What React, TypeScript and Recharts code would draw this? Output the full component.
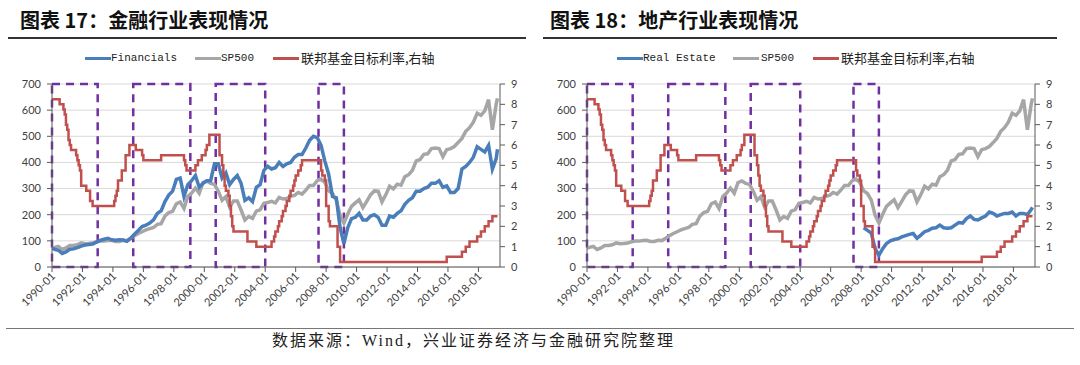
import React from "react";
import { ComposedChart, Line, XAxis, YAxis, CartesianGrid, ReferenceArea } from "recharts";

const dates = [
  "1990-01", "1990-03", "1990-06", "1990-09", "1990-12",
  "1991-03", "1991-06", "1991-09", "1991-12",
  "1992-03", "1992-06", "1992-09", "1992-12",
  "1993-03", "1993-06", "1993-09", "1993-12",
  "1994-03", "1994-06", "1994-09", "1994-12",
  "1995-03", "1995-06", "1995-09", "1995-12",
  "1996-03", "1996-06", "1996-09", "1996-12",
  "1997-03", "1997-06", "1997-09", "1997-12",
  "1998-03", "1998-06", "1998-09", "1998-12",
  "1999-03", "1999-06", "1999-09", "1999-12",
  "2000-03", "2000-06", "2000-09", "2000-12",
  "2001-03", "2001-06", "2001-09", "2001-12",
  "2002-03", "2002-06", "2002-09", "2002-12",
  "2003-03", "2003-06", "2003-09", "2003-12",
  "2004-03", "2004-06", "2004-09", "2004-12",
  "2005-03", "2005-06", "2005-09", "2005-12",
  "2006-03", "2006-06", "2006-09", "2006-12",
  "2007-03", "2007-06", "2007-09", "2007-12",
  "2008-03", "2008-06", "2008-09", "2008-12",
  "2009-03", "2009-06", "2009-09", "2009-12",
  "2010-03", "2010-06", "2010-09", "2010-12",
  "2011-03", "2011-06", "2011-09", "2011-12",
  "2012-03", "2012-06", "2012-09", "2012-12",
  "2013-03", "2013-06", "2013-09", "2013-12",
  "2014-03", "2014-06", "2014-09", "2014-12",
  "2015-03", "2015-06", "2015-09", "2015-12",
  "2016-03", "2016-06", "2016-09", "2016-12",
  "2017-03", "2017-06", "2017-09", "2017-12",
  "2018-03", "2018-06", "2018-09", "2018-12",
  "2019-03", "2019-04",
];

const sp500 = [
  72, 75, 79, 67, 73,
  82, 82, 85, 92,
  89, 90, 92, 96,
  99, 99, 101, 102,
  98, 98, 102, 101,
  110, 120, 128, 135,
  142, 147, 151, 163,
  166, 195, 208, 213,
  242, 249, 224, 270,
  283, 302, 282, 323,
  329, 320, 316, 290,
  255, 269, 229, 252,
  252, 218, 180, 193,
  186, 214, 219, 244,
  247, 251, 245, 266,
  260, 262, 270, 274,
  285, 279, 294, 312,
  312, 330, 336, 323,
  291, 281, 256, 198,
  168, 202, 232, 245,
  257, 227, 251, 276,
  291, 290, 249, 276,
  309, 299, 317, 313,
  345, 353, 370, 406,
  411, 431, 433, 453,
  455, 453, 422, 449,
  453, 461, 476, 492,
  519, 533, 554, 588,
  580, 597, 640, 525,
  623, 645,
];

const financials = [
  72, 68, 64, 52, 58,
  68, 70, 74, 80,
  84, 86, 88, 95,
  102, 106, 110, 104,
  102, 104, 103, 98,
  110, 125, 140, 155,
  160, 168, 180, 205,
  215, 250, 275, 290,
  335, 340, 270, 315,
  330, 350, 305, 320,
  330, 330, 395, 395,
  340, 360, 315, 335,
  350, 320, 255, 265,
  250, 305, 315, 370,
  385, 375, 380, 400,
  385, 395, 400, 420,
  430, 430, 455, 485,
  500, 495, 465, 405,
  355, 270, 265, 150,
  90, 150, 185, 190,
  205, 180, 180, 195,
  200, 190, 160, 160,
  195, 190, 205, 215,
  240, 255, 265, 290,
  290, 300, 305, 320,
  320, 330, 305, 310,
  285, 285, 300, 375,
  385, 400, 420, 460,
  450, 440, 465, 375,
  415, 450,
];

// real estate series only starts in 2008
const reStart = "2008-03";
const realEstate = [
  150, 140, 130, 70,
  45, 70, 90, 100,
  105, 108, 115, 120,
  125, 128, 110, 122,
  135, 140, 148, 150,
  160, 150, 148, 150,
  160, 170, 168, 185,
  195, 182, 180, 188,
  195, 210, 205, 195,
  200, 205, 205, 210,
  195, 205, 205, 200,
  220, 228,
];

// fed funds target rate, change points (right axis)
const fedDates = [
  "1990-01", "1990-07", "1990-10", "1990-11", "1990-12", "1991-01", "1991-02", "1991-03",
  "1991-04", "1991-08", "1991-09", "1991-10", "1991-11", "1991-12", "1992-04", "1992-07",
  "1992-09", "1994-02", "1994-03", "1994-04", "1994-05", "1994-08", "1994-11", "1995-02",
  "1995-07", "1995-12", "1996-01", "1997-03", "1998-09", "1998-10", "1998-11", "1999-06",
  "1999-08", "1999-11", "2000-02", "2000-03", "2000-05", "2001-01", "2001-03", "2001-04",
  "2001-05", "2001-06", "2001-08", "2001-09", "2001-10", "2001-11", "2001-12", "2002-11",
  "2003-06", "2004-06", "2004-08", "2004-09", "2004-11", "2004-12", "2005-02", "2005-03",
  "2005-05", "2005-06", "2005-08", "2005-09", "2005-11", "2005-12", "2006-01", "2006-03",
  "2006-05", "2006-06", "2007-09", "2007-10", "2007-12", "2008-01", "2008-03", "2008-04",
  "2008-10", "2008-12", "2015-12", "2016-12", "2017-03", "2017-06", "2017-12", "2018-03",
  "2018-06", "2018-09", "2018-12", "2019-04",
];
const fedRate = [
  8.25, 8.0, 7.75, 7.5, 7.0, 6.75, 6.25, 6.0,
  5.75, 5.5, 5.25, 5.0, 4.75, 4.0, 3.75, 3.25,
  3.0, 3.25, 3.5, 3.75, 4.25, 4.75, 5.5, 6.0,
  5.75, 5.5, 5.25, 5.5, 5.25, 5.0, 4.75, 5.0,
  5.25, 5.5, 5.75, 6.0, 6.5, 5.5, 5.0, 4.5,
  4.0, 3.75, 3.5, 3.0, 2.5, 2.0, 1.75, 1.25,
  1.0, 1.25, 1.5, 1.75, 2.0, 2.25, 2.5, 2.75,
  3.0, 3.25, 3.5, 3.75, 4.0, 4.25, 4.5, 4.75,
  5.0, 5.25, 4.75, 4.5, 4.25, 3.0, 2.25, 2.0,
  1.0, 0.25, 0.5, 0.75, 1.0, 1.25, 1.5, 1.75,
  2.0, 2.25, 2.5, 2.5,
];

// dashed boxes: rate-cut periods
const boxStarts = ["1990-01", "1995-05", "2000-10", "2007-07"];
const boxEnds = ["1993-01", "1999-02", "2004-01", "2009-03"];

const leftTicks = [0, 100, 200, 300, 400, 500, 600, 700];
const rightTicks = [0, 1, 2, 3, 4, 5, 6, 7, 8, 9];
const tickYears = [1990, 1992, 1994, 1996, 1998, 2000, 2002, 2004, 2006, 2008, 2010, 2012, 2014, 2016, 2018];

const toT = (d: string) => (Number(d.slice(0, 4)) - 1990) * 12 + Number(d.slice(5, 7)) - 1;

const spData = dates.map((d, i) => ({ t: toT(d), v: sp500[i] }));
const finData = dates.map((d, i) => ({ t: toT(d), v: financials[i] }));
const reIdx = dates.indexOf(reStart);
const reData = realEstate.map((v, i) => ({ t: toT(dates[reIdx + i]), v }));
const fedData = fedDates.map((d, i) => ({ t: toT(d), v: fedRate[i] }));
const xTicks = tickYears.map((y) => (y - 1990) * 12);

const BLUE = "#4a7ebb";
const GRAY = "#a6a6a6";
const RED = "#c0504d";
const PURPLE = "#7030a0";
const AXIS = "#595959";
const TICK_FONT = "Lato, 'Open Sans', sans-serif";

const XTick = (props: any) => {
  const { x, y, payload } = props;
  const ax = x + 4;
  const ay = y + 3;
  return (
    <text x={ax} y={ay} textAnchor="end" transform={`rotate(-45 ${ax} ${ay})`}
      fontSize={11} fill="#404040" fontFamily={TICK_FONT}>
      {`${1990 + payload.value / 12}-01`}
    </text>
  );
};

type LegendItem = { color: string; label: string; lineX: number; textX: number; mono?: boolean };

function Panel(props: {
  left: number;
  titleX: number;
  title: string;
  sectorData: { t: number; v: number }[];
  legend: LegendItem[];
}) {
  const { left, titleX, title, sectorData, legend } = props;
  return (
    <div style={{ position: "absolute", left, top: 0, width: 540, height: 330 }}>
      <div style={{
        position: "absolute", left: titleX, top: 7, fontSize: 20, fontWeight: 700, lineHeight: "26px",
        fontFamily: "'Noto Sans CJK SC', sans-serif", color: "#111", whiteSpace: "nowrap",
      }}>{title}</div>
      {legend.map((it) => (
        <React.Fragment key={it.label}>
          <div style={{ position: "absolute", left: it.lineX, top: 57, width: 26, height: 3, background: it.color }} />
          <div style={{
            position: "absolute", left: it.textX, top: 50, lineHeight: "16px", whiteSpace: "nowrap",
            fontSize: it.mono ? 11 : 13, color: "#222",
            fontFamily: it.mono ? "'Liberation Mono', monospace" : "'Noto Sans CJK SC', sans-serif",
          }}>{it.label}</div>
        </React.Fragment>
      ))}
      <div style={{ position: "absolute", left: 0, top: 0 }}>
        <ComposedChart width={540} height={330} margin={{ top: 84, right: 8, bottom: 13, left: 0 }}>
          <CartesianGrid yAxisId="l" vertical={false} stroke="#d9d9d9" />
          <XAxis type="number" dataKey="t" domain={[0, 353]} ticks={xTicks} interval={0}
            allowDataOverflow height={50} tickSize={5} tickMargin={2}
            stroke={AXIS} tick={<XTick />} />
          <YAxis yAxisId="l" domain={[0, 700]} ticks={leftTicks} width={52} tickSize={5} tickMargin={6}
            stroke={AXIS} tick={{ fontSize: 11, fill: "#404040", fontFamily: TICK_FONT }} />
          <YAxis yAxisId="r" orientation="right" domain={[0, 9]} ticks={rightTicks} width={32}
            tickSize={5} tickMargin={6} stroke={AXIS}
            tick={{ fontSize: 11, fill: "#404040", fontFamily: TICK_FONT }} />
          <Line yAxisId="l" data={spData} dataKey="v" stroke={GRAY} strokeWidth={3.5} dot={false}
            isAnimationActive={false} />
          <Line yAxisId="l" data={sectorData} dataKey="v" stroke={BLUE} strokeWidth={3.5} dot={false}
            isAnimationActive={false} />
          <Line yAxisId="r" data={fedData} dataKey="v" type="stepAfter" stroke={RED} strokeWidth={2.5}
            dot={false} isAnimationActive={false} />
          {boxStarts.map((s, i) => (
            <ReferenceArea key={s} yAxisId="l" x1={toT(s)} x2={toT(boxEnds[i])} y1={0} y2={700}
              fill="none" fillOpacity={0} stroke={PURPLE} strokeWidth={2.5} strokeDasharray="8 6" />
          ))}
        </ComposedChart>
      </div>
    </div>
  );
}

export default function App() {
  return (
    <div style={{ position: "absolute", left: 0, top: 0, width: 1080, height: 365, background: "#fff", overflow: "hidden" }}>
      <div style={{ position: "absolute", left: 8, top: 37, width: 518, height: 1.5, background: "#333" }} />
      <div style={{ position: "absolute", left: 543, top: 37, width: 514, height: 1.5, background: "#333" }} />
      <Panel left={0} titleX={20} title="图表 17：金融行业表现情况" sectorData={finData}
        legend={[
          { color: BLUE, label: "Financials", lineX: 85, textX: 111, mono: true },
          { color: GRAY, label: "SP500", lineX: 195, textX: 221, mono: true },
          { color: RED, label: "联邦基金目标利率,右轴", lineX: 273, textX: 301 },
        ]} />
      <Panel left={535} titleX={15} title="图表 18：地产行业表现情况" sectorData={reData}
        legend={[
          { color: BLUE, label: "Real Estate", lineX: 82, textX: 108, mono: true },
          { color: GRAY, label: "SP500", lineX: 198, textX: 226, mono: true },
          { color: RED, label: "联邦基金目标利率,右轴", lineX: 278, textX: 306 },
        ]} />
      <div style={{ position: "absolute", left: 6, top: 328, width: 1068, height: 1, background: "#777" }} />
      <div style={{
        position: "absolute", left: 272, top: 331, fontSize: 16, lineHeight: "20px", letterSpacing: 2,
        fontFamily: "'Liberation Serif', 'Noto Sans CJK SC', serif", color: "#222", whiteSpace: "nowrap",
      }}>数据来源：Wind，兴业证券经济与金融研究院整理</div>
    </div>
  );
}
